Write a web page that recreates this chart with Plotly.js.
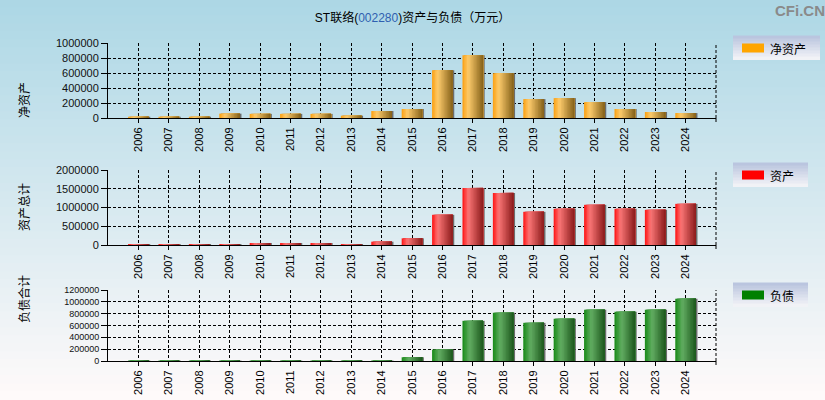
<!DOCTYPE html>
<html>
<head>
<meta charset="utf-8">
<script src="https://cdn.plot.ly/plotly-3.0.1.min.js"></script>
<style>
html, body { margin: 0; padding: 0; }
#chart { width: 825px; height: 400px; }
</style>
</head>
<body>
<div id="chart"></div>
<script>
// data (万元)
var years = ['2006', '2007', '2008', '2009', '2010', '2011', '2012', '2013', '2014', '2015',
             '2016', '2017', '2018', '2019', '2020', '2021', '2022', '2023', '2024'];
var netAssets = [17000, 17000, 17000, 58000, 55000, 55000, 55000, 31000, 93000, 120000,
                 637000, 836000, 597000, 252000, 265000, 212000, 120000, 80000, 66000];
var totalAssets = [27000, 27000, 27000, 27000, 53000, 53000, 53000, 27000, 88000, 178000,
                   805000, 1522000, 1389000, 885000, 965000, 1071000, 965000, 938000, 1097000];
var liabilities = [8000, 8000, 8000, 8000, 8000, 8000, 8000, 8000, 8000, 63000,
                   192000, 679000, 815000, 645000, 713000, 866000, 832000, 866000, 1053000];
var seriesNames = ['净资产', '资产', '负债'];
var axisTitles = ['净资产', '资产总计', '负债合计'];

var W = 825, H = 400;
var FONT = 'Liberation Sans, Arial, Noto Sans CJK SC, sans-serif';
var CJK = 'Noto Sans CJK SC, sans-serif';
var DASH = '3px,2px';

// pixel boxes of the three panels
var panels = [
  {top: 43, bottom: 118, range: [0, 1000000], dtick: 200000, tsize: 11},
  {top: 170, bottom: 245, range: [0, 2000000], dtick: 500000, tsize: 11},
  {top: 290, bottom: 361, range: [0, 1200000], dtick: 200000, tsize: 9}
];
var left = 108, right = 716;

function hex(c) { return [parseInt(c.substr(1, 2), 16), parseInt(c.substr(3, 2), 16), parseInt(c.substr(5, 2), 16)]; }
function colorAt(stops, t) {
  for (var i = 1; i < stops.length; i++) {
    if (t <= stops[i][0]) {
      var a = hex(stops[i - 1][1]), b = hex(stops[i][1]);
      var f = (t - stops[i - 1][0]) / (stops[i][0] - stops[i - 1][0]);
      return 'rgb(' + [0, 1, 2].map(function (k) { return Math.round(a[k] + (b[k] - a[k]) * f); }).join(',') + ')';
    }
  }
  return stops[stops.length - 1][1];
}

var gradients = [
  [[0, '#fb9f10'], [0.28, '#fdcb6c'], [1, '#846018']],
  [[0, '#ff1212'], [0.28, '#fb7676'], [1, '#8a1a1a']],
  [[0, '#178a17'], [0.35, '#62ad62'], [1, '#1b561b']]
];
var swatch = ['#ffa500', '#ff0000', '#008000'];

// bars with a left-to-right shading, drawn as stacked slices
function shadedBars(ys, stops, xa, ya) {
  var out = [], w = 0.68, n = 14;
  out.push({type: 'bar', x: years, y: ys, xaxis: xa, yaxis: ya, width: w, offset: -w / 2 + 0.05,
            marker: {color: '#6c6c6c', line: {width: 0}}, hoverinfo: 'skip', showlegend: false});
  for (var i = 0; i < n; i++) {
    out.push({type: 'bar', x: years, y: ys, xaxis: xa, yaxis: ya,
              width: w - i * w / n, offset: -w / 2 + i * w / n,
              marker: {color: colorAt(stops, (i + 0.5) / n), line: {width: 0}},
              hoverinfo: i == 0 ? 'x+y' : 'skip', showlegend: false});
  }
  return out;
}

var data = []
  .concat(shadedBars(netAssets, gradients[0], 'x', 'y'))
  .concat(shadedBars(totalAssets, gradients[1], 'x2', 'y2'))
  .concat(shadedBars(liabilities, gradients[2], 'x3', 'y3'));

var shapes = [];
var annotations = [];

// page background: light blue fading to white
var topC = '#acd7e5', botC = '#fffafa', strips = 50;
for (var s = 0; s < strips; s++) {
  shapes.push({type: 'rect', xref: 'paper', yref: 'paper', x0: 0, x1: 1,
               y0: 1 - (s + 1) / strips, y1: 1 - s / strips + 0.002,
               fillcolor: colorAt([[0, topC], [1, botC]], (s + 0.5) / strips),
               line: {width: 0}, layer: 'below'});
}

function px(x) { return x / W; }
function py(y) { return 1 - y / H; }

var layout = {
  width: W, height: H,
  margin: {l: 0, r: 0, t: 0, b: 0},
  paper_bgcolor: '#ffffff',
  plot_bgcolor: 'rgba(0,0,0,0)',
  barmode: 'overlay',
  showlegend: false,
  title: {
    text: 'ST联络(<span style="color:#2f5fb0">002280</span>)资产与负债（万元）',
    x: 0.5, xanchor: 'center', y: py(18), yanchor: 'middle',
    font: {family: FONT, size: 12, color: '#000'}
  },
  shapes: shapes,
  annotations: annotations
};

panels.forEach(function (p, i) {
  var k = i == 0 ? '' : String(i + 1);
  layout['xaxis' + k] = {
    type: 'category', range: [-1, 19], domain: [px(left), px(right)], anchor: 'y' + k,
    showline: true, linecolor: '#000', linewidth: 1,
    showgrid: true, gridcolor: '#000', griddash: DASH, gridwidth: 1,
    ticks: 'outside', ticklen: 4, tickcolor: '#000', tickangle: -90,
    tickfont: {family: FONT, size: 11, color: '#000'}, zeroline: false, fixedrange: true
  };
  layout['yaxis' + k] = {
    range: p.range, dtick: p.dtick, tickformat: 'd', domain: [py(p.bottom), py(p.top)], anchor: 'x' + k,
    showline: true, linecolor: '#000', linewidth: 1,
    showgrid: true, gridcolor: '#000', griddash: DASH, gridwidth: 1,
    ticks: 'outside', ticklen: 6, tickcolor: '#000',
    tickfont: {family: FONT, size: p.tsize, color: '#111'}, zeroline: false, fixedrange: true
  };
  // right edge dashed line and its tick
  shapes.push({type: 'line', xref: 'paper', yref: 'paper', x0: px(right), x1: px(right),
               y0: py(p.bottom), y1: py(p.top), line: {color: '#000', width: 1, dash: DASH}});
  shapes.push({type: 'line', xref: 'paper', yref: 'paper', x0: px(right), x1: px(right),
               y0: py(p.bottom + 4), y1: py(p.bottom), line: {color: '#000', width: 1}});
  // vertical axis title
  annotations.push({text: axisTitles[i], xref: 'paper', yref: 'paper', x: px(13), y: py((p.top + p.bottom) / 2),
                    textangle: -90, showarrow: false, font: {family: CJK, size: 12, color: '#000'}});
});

// legend boxes, one per panel
var boxes = [
  {x0: 733, x1: 820, y0: 36, y1: 60},
  {x0: 733, x1: 808, y0: 163, y1: 187},
  {x0: 733, x1: 808, y0: 283, y1: 307}
];
boxes.forEach(function (b, i) {
  var n = 8;
  for (var s = 0; s < n; s++) {
    var ya = b.y0 + (b.y1 - b.y0) * s / n, yb = b.y0 + (b.y1 - b.y0) * (s + 1) / n;
    shapes.push({type: 'rect', xref: 'paper', yref: 'paper', x0: px(b.x0), x1: px(b.x1),
                 y0: py(yb), y1: py(ya) + 0.001,
                 fillcolor: colorAt([[0, '#b6c2dd'], [1, '#f5f5f8']], (s + 0.5) / n), line: {width: 0}});
  }
  var cy = (b.y0 + b.y1) / 2;
  shapes.push({type: 'rect', xref: 'paper', yref: 'paper', x0: px(742), x1: px(764),
               y0: py(cy + 4.5), y1: py(cy - 4.5), fillcolor: swatch[i], line: {width: 0}});
  annotations.push({text: seriesNames[i], xref: 'paper', yref: 'paper', x: px(768), y: py(cy),
                    xanchor: 'left', yanchor: 'middle', showarrow: false,
                    font: {family: CJK, size: 12, color: '#000'}});
});

// watermark
annotations.push({text: '<b>CFi.CN</b>', xref: 'paper', yref: 'paper', x: px(800), y: py(10),
                  xanchor: 'center', yanchor: 'middle', showarrow: false,
                  font: {family: FONT, size: 15, color: '#8a8a8a'}});

Plotly.newPlot('chart', data, layout, {displayModeBar: false, staticPlot: true});
</script>
</body>
</html>
